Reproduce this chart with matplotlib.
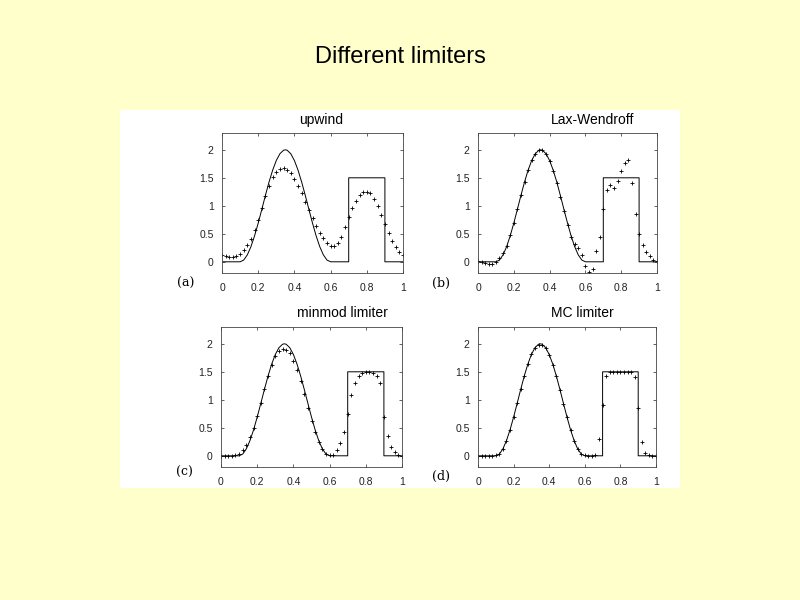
import numpy as np
import matplotlib
matplotlib.use("Agg")
import matplotlib.pyplot as plt
from matplotlib.patches import Rectangle

# grid points where the numerical solutions are shown
x = np.round(np.arange(51) * 0.02, 2)

# exact solution: smooth hump on [0.1, 0.6] and a square pulse on [0.7, 0.9]
x_exact = [0.0, 0.10, 0.12, 0.14, 0.16, 0.18, 0.20, 0.22, 0.24, 0.26, 0.28, 0.30,
           0.32, 0.34, 0.35, 0.36, 0.38, 0.40, 0.42, 0.44, 0.46, 0.48, 0.50, 0.52,
           0.54, 0.56, 0.58, 0.60, 0.70, 0.70, 0.90, 0.90, 1.0]
q_exact = [0.0, 0.0, 0.031, 0.124, 0.271, 0.464, 0.691, 0.937, 1.187, 1.426, 1.637, 1.809,
           1.930, 1.992, 2.0, 1.992, 1.930, 1.809, 1.637, 1.426, 1.187, 0.937, 0.691, 0.464,
           0.271, 0.124, 0.031, 0.0, 0.0, 1.5, 1.5, 0.0, 0.0]

upwind = [0.12, 0.10, 0.08, 0.08, 0.10, 0.14, 0.21, 0.30, 0.41, 0.56,
          0.74, 0.96, 1.17, 1.36, 1.51, 1.61, 1.66, 1.67, 1.64, 1.58,
          1.48, 1.36, 1.22, 1.07, 0.92, 0.78, 0.64, 0.52, 0.42, 0.34,
          0.29, 0.29, 0.34, 0.45, 0.62, 0.80, 0.96, 1.09, 1.19, 1.24,
          1.25, 1.22, 1.13, 1.00, 0.84, 0.68, 0.52, 0.38, 0.26, 0.17, 0.12]

lax_wendroff = [0.02, 0.00, -0.02, -0.04, -0.04, 0.00, 0.06, 0.15, 0.29, 0.47,
                0.69, 0.94, 1.19, 1.43, 1.64, 1.81, 1.93, 1.99, 1.99, 1.93,
                1.80, 1.62, 1.40, 1.16, 0.90, 0.65, 0.45, 0.32, 0.25, 0.12,
                -0.08, -0.18, -0.12, 0.20, 0.45, 0.95, 1.28, 1.38, 1.32, 1.45,
                1.62, 1.76, 1.82, 1.40, 0.85, 0.50, 0.30, 0.18, 0.10, 0.04, 0.01]

minmod = [-0.01, -0.01, -0.01, -0.01, 0.01, 0.04, 0.10, 0.20, 0.33, 0.50,
          0.71, 0.95, 1.19, 1.42, 1.62, 1.78, 1.88, 1.90, 1.89, 1.83,
          1.70, 1.53, 1.33, 1.10, 0.86, 0.63, 0.42, 0.25, 0.12, 0.04,
          0.01, 0.02, 0.10, 0.22, 0.42, 0.75, 1.08, 1.30, 1.42, 1.47,
          1.49, 1.49, 1.47, 1.42, 1.30, 0.70, 0.35, 0.16, 0.06, 0.02, 0.00]

mc = [0.00, 0.00, 0.00, 0.00, 0.00, 0.01, 0.04, 0.12, 0.27, 0.46,
      0.69, 0.94, 1.19, 1.42, 1.64, 1.81, 1.93, 1.98, 1.98, 1.92,
      1.80, 1.63, 1.42, 1.18, 0.93, 0.69, 0.46, 0.27, 0.13, 0.04,
      0.01, 0.00, 0.00, 0.01, 0.30, 0.90, 1.42, 1.49, 1.49, 1.49,
      1.49, 1.49, 1.49, 1.49, 1.40, 0.85, 0.25, 0.05, 0.01, 0.00, 0.00]

titles = ["upwind", "Lax-Wendroff", "minmod limiter", "MC limiter"]
panel_labels = ["(a)", "(b)", "(c)", "(d)"]
series = [upwind, lax_wendroff, minmod, mc]

x_ticks = [0, 0.2, 0.4, 0.6, 0.8, 1]
x_ticklabels = ["0", "0.2", "0.4", "0.6", "0.8", "1"]
y_ticks = [0, 0.5, 1, 1.5, 2]
y_ticklabels = ["0", "0.5", "1", "1.5", "2"]

W, H = 800, 600
fig = plt.figure(figsize=(8, 6), dpi=100)
fig.patch.set_facecolor("#FFFFCC")


def px(l, t, r, b):
    # pixel box -> figure fraction [left, bottom, width, height]
    return [l / W, 1 - b / H, (r - l) / W, (b - t) / H]


# white "scanned page" behind the four panels
fig.patches.append(Rectangle((120 / W, 1 - 488 / H), 560 / W, 378 / H,
                             transform=fig.transFigure, facecolor="white",
                             edgecolor="none", zorder=-5))

fig.text(0.5, 1 - 57 / H, "Different limiters", ha="center", va="center",
         fontsize=17, family="Liberation Sans")

boxes = [(222, 133, 403, 273), (478, 133, 657, 273),
         (221, 327, 402, 467), (478, 327, 656, 467)]
title_pos = [(321, 120), (593, 120), (342, 313), (582, 313)]
label_pos = [(186, 283), (441, 283), (184, 472), (441, 476)]

for i in range(4):
    ax = fig.add_axes(px(*boxes[i]))
    ax.set_zorder(1)
    ax.set_facecolor("white")
    ax.plot(x_exact, q_exact, color="black", lw=0.7)
    ax.plot(x, series[i], "+", color="black", ms=3, mew=0.6)
    ax.set_xlim(0, 1)
    ax.set_ylim(-0.2, 2.3)
    ax.set_xticks(x_ticks)
    ax.set_xticklabels(x_ticklabels)
    ax.set_yticks(y_ticks)
    ax.set_yticklabels(y_ticklabels)
    ax.tick_params(direction="in", length=2, width=0.5, labelsize=7.5,
                   colors="#222222", top=True, right=True)
    ax.tick_params(axis="x", pad=7)
    ax.tick_params(axis="y", pad=6)
    for s in ax.spines.values():
        s.set_linewidth(0.6)
        s.set_color("#444444")
    for lab in ax.get_xticklabels() + ax.get_yticklabels():
        lab.set_family("Liberation Sans")

    tx, ty = title_pos[i]
    fig.text(tx / W, 1 - ty / H, titles[i], ha="center", va="center",
             fontsize=10, family="Liberation Sans", zorder=2)
    lx, ly = label_pos[i]
    fig.text(lx / W, 1 - ly / H, panel_labels[i], ha="center", va="center",
             fontsize=9, family="DejaVu Serif", zorder=2)

fig.savefig("out.png", dpi=100, facecolor=fig.get_facecolor())
